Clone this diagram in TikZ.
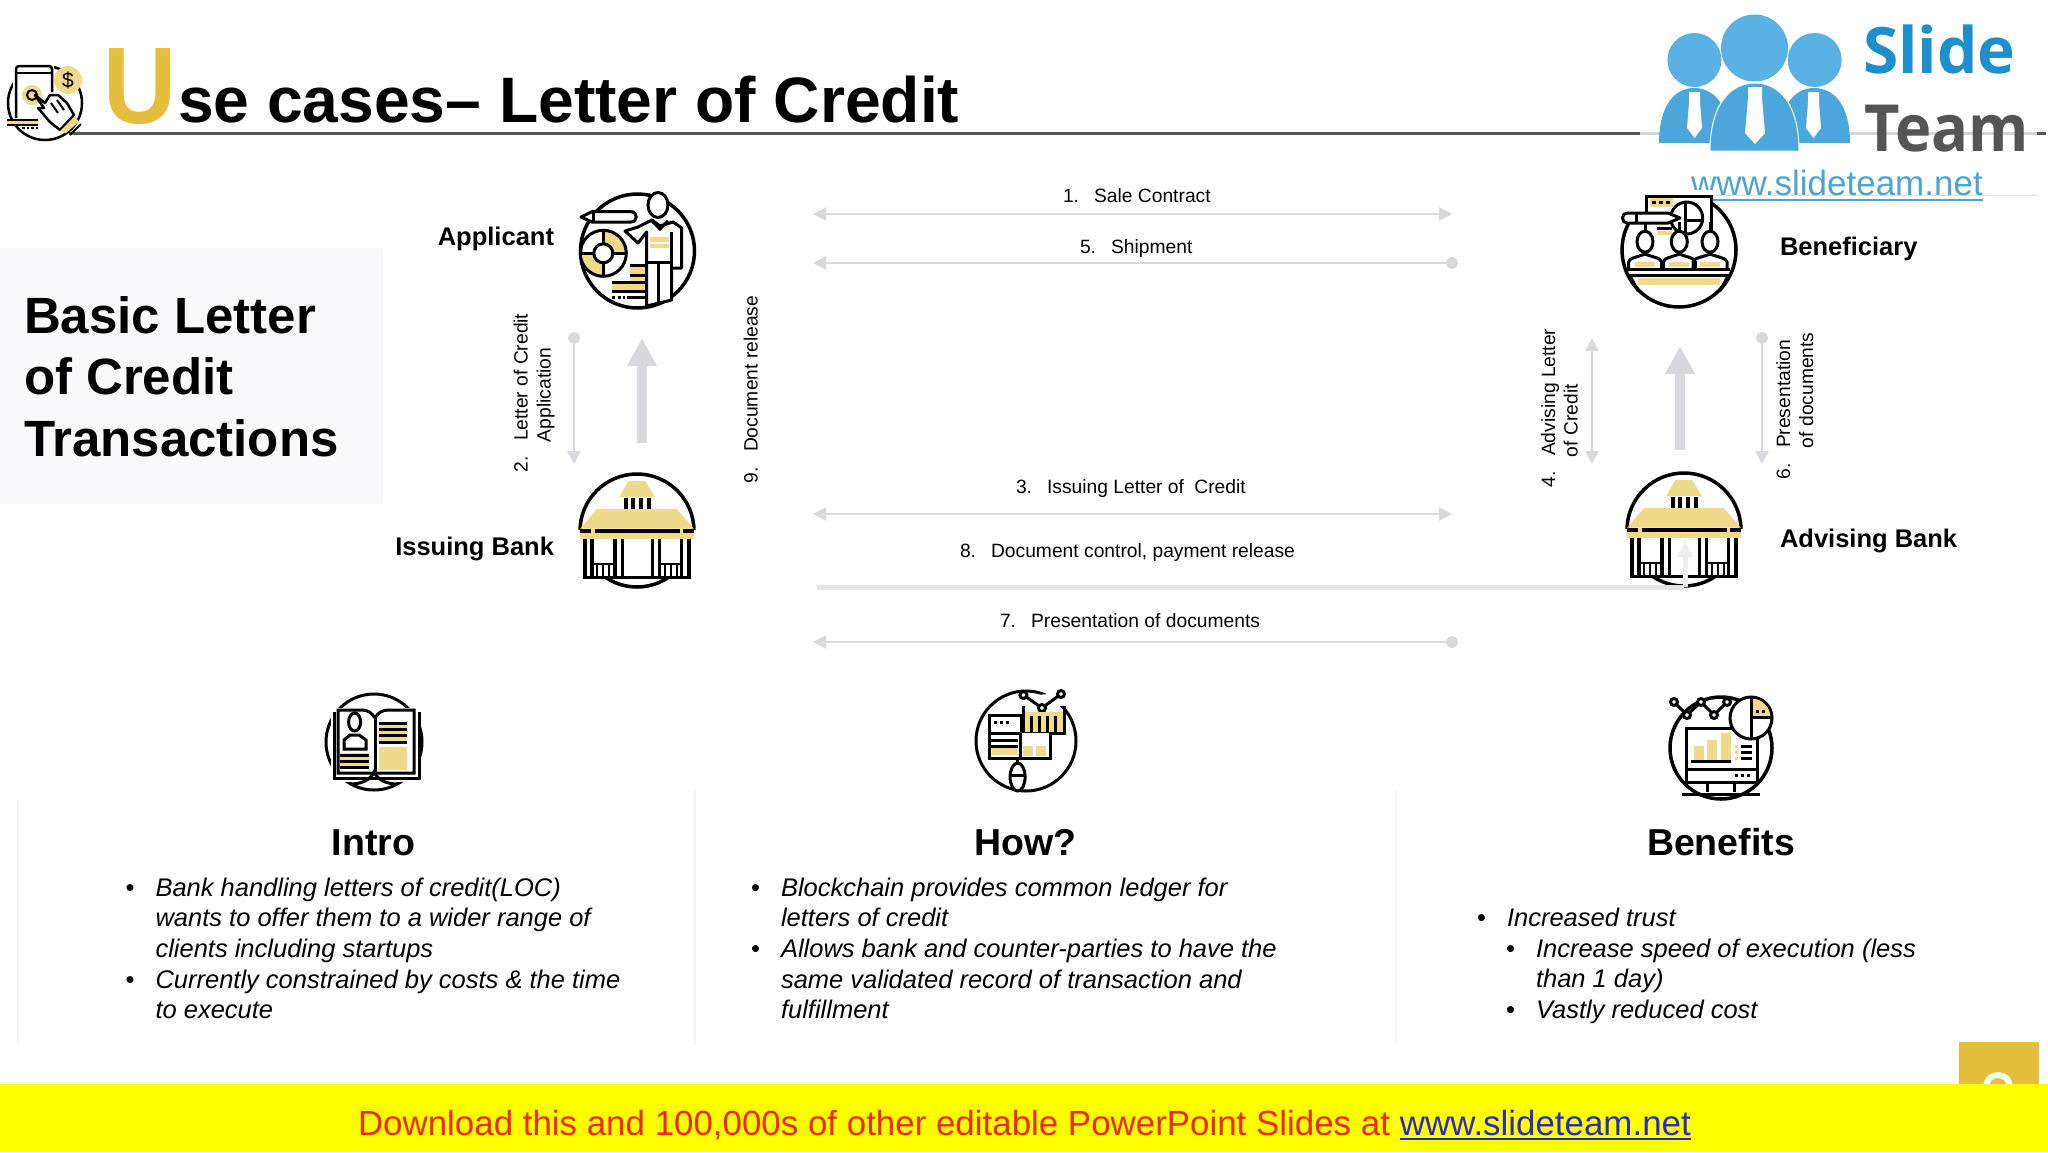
\documentclass[tikz,border=0pt]{standalone}
\usepackage{fontspec}
\setmainfont{Liberation Sans}
\newfontfamily\logofont{Open Sans}
\usepackage{tikz}
\usetikzlibrary{arrows.meta, positioning, calc}
\definecolor{icongold}{HTML}{EFDA8C}
\definecolor{titlegold}{HTML}{E5BF3C}
\definecolor{flowgrey}{HTML}{D9D9DD}
\definecolor{panelgrey}{HTML}{F9F8FB}
\definecolor{logoblue}{HTML}{4BA6DC}
\definecolor{logohead}{HTML}{5AB2E4}
\definecolor{logotext}{HTML}{1E8FCC}
\definecolor{logogrey}{HTML}{555555}
\definecolor{sitecolor}{HTML}{4FA3D1}
\definecolor{linkblue}{HTML}{2A2AC8}
\definecolor{bannerred}{HTML}{F02800}
\definecolor{banneryellow}{HTML}{FFFF00}
\newcommand{\Fs}[1]{\fontsize{#1}{#1}\selectfont}
\newcommand{\Bul}{\leavevmode\llap{\textup{•}\hspace{21pt}}}
\tikzset{
    hd/.tip={Triangle[width=13pt,length=13pt]},
    bl/.tip={Circle[length=12pt]},
    flow/.style={draw=flowgrey, line width=2.5pt},
    flowboth/.style={flow, hd-hd},
    flowdot/.style={flow, hd-bl},
    block/.style={draw=flowgrey, line width=10pt, -{Triangle[width=28pt,length=28pt]}},
    iconline/.style={draw=black, line width=3pt},
    txt/.style={inner sep=0pt, outer sep=0pt, anchor=base west},
    steplabel/.style={txt, font=\Fs{19.25}},
    uplabel/.style={steplabel, rotate=90},
    party/.style={inner sep=0pt, outer sep=0pt, font=\bfseries\Fs{25.5}},
    heading/.style={inner sep=0pt, outer sep=0pt, anchor=base, font=\bfseries\Fs{37.5}},
    bullets/.style={inner sep=0pt, outer sep=0pt, anchor=north west, align=left, font=\itshape\fontsize{25.5}{30.7}\selectfont},
    bankicon/.pic = {
      \begin{scope}
        \clip (-60,-60) rectangle (60,-2);
        \draw[iconline, line width=3.5pt] (0,0) circle[radius=57];
      \end{scope}
      \begin{scope}
        \clip (-60,47) rectangle (60,60);
        \draw[iconline, line width=3.5pt] (0,0) circle[radius=56];
      \end{scope}
      \fill[icongold] (-8.7,-50) -- (8,-50) -- (18,-34) -- (-17.7,-34) -- cycle;
      \foreach \xbar in {-11,-4,3.5,11.5}
        \fill (\xbar-2,-33) rectangle (\xbar+2,-22.3);
      \fill[icongold] (-40,-22) -- (39.7,-22) -- (57,-2.3) -- (-57,-2.3) -- cycle;
      \fill[icongold] (-57,-2.3) rectangle (57,7.7);
      \fill (-57,-2.3) rectangle (-45.7,2);
      \fill (-42.3,-2.3) rectangle (43,2);
      \fill (46.3,-2.3) rectangle (57,2);
      \foreach \xcol in {-52,-45,-22,-14.3,15.7,22.3,44.7,52}
        \draw[iconline, line width=3.3pt] (\xcol,7.7) -- (\xcol,47.5);
      \draw[iconline, line width=3.3pt] (-53.5,46.5) -- (53.5,46.5);
      \draw[iconline, line width=2.5pt] (-45,33) -- (-22,33);
      \draw[iconline, line width=2.5pt] (22,33) -- (45,33);
      \foreach \xbal in {-40,-34,-28,28,34,40}
        \draw[iconline, line width=2.5pt] (\xbal,33) -- (\xbal,46);
    },
}
\begin{document}
\begin{tikzpicture}[x=1pt, y=-1pt]
    \useasboundingbox (0,0) rectangle (2048,1152);
    \fill[white] (0,0) rectangle (2048,1152);

    \coordinate (rulew) at (69,133);
    \coordinate (rulee) at (2046,133);
    \draw[draw=logogrey, line width=3pt] (rulew) -- (rulee);

    \node[txt, text=titlegold, font=\bfseries\Fs{109}] (initial) at (103,123) {\scalebox{.93}[1]{U}};
    \node[txt, font=\bfseries\Fs{64.2}] (title) at (178,122) {se cases– Letter of Credit};

    \draw[iconline, line width=2.5pt] (45,103) circle[radius=37];
    \fill[white] (13,62) rectangle (54,112);
    \fill[icongold] (68,80) circle[radius=14];
    \node[inner sep=0pt, font=\Fs{21}] (dollar) at (68,80) {\$};
    \draw[iconline, line width=2.5pt, rounded corners=3pt] (16,118) -- (16,66) -- (52,66) -- (52,92);
    \draw[iconline, line width=2pt] (16,73) -- (52,73);
    \fill[icongold] (32,95) circle[radius=10];
    \draw[iconline, line width=2pt] (32,95) circle[radius=5];
    \draw[iconline, line width=2.5pt, fill=white, line join=round] (35,95) -- (45,103) -- (50,95) -- (58,95) -- (67,103) -- (74,115) -- (60,130) -- (50,122) -- (38,108) -- (44,108) -- cycle;
    \draw[iconline, line width=2pt] (51,103) -- (58,113);
    \draw[iconline, line width=2pt] (57,100) -- (64,110);
    \fill[icongold] (60,131) -- (75,116) -- (79,122) -- (66,133) -- cycle;
    \draw[iconline, line width=2pt] (70,135) -- (81,124);
    \fill[icongold] (7,120) rectangle (38,125);
    \foreach \ybar in {120,125}
      \draw[iconline, line width=2.5pt] (7,\ybar) -- (38,\ybar);
    \draw[iconline, line width=2pt, dash pattern=on 2.5pt off 2pt] (22,128) -- (38,128);

    \fill[white, opacity=.75] (1640,0) rectangle (2037,195);
    \draw[draw=black!12, line width=1pt] (1640,195) -- (2037,195);
    \fill[logohead] (1694.4,60) circle[radius=27];
    \fill[logohead] (1814.7,60) circle[radius=27];
    \fill[logohead] (1754.5,48) circle[radius=33.5];
    \fill[logoblue] (1659,143) .. controls (1659,105) and (1675,88) .. (1694,88) .. controls (1714,88) and (1730,105) .. (1730,143) -- cycle;
    \fill[logoblue] (1779,143) .. controls (1779,105) and (1795,88) .. (1814,88) .. controls (1834,88) and (1850,105) .. (1850,143) -- cycle;
    \draw[white, line width=1pt, fill=logoblue] (1710,151) .. controls (1710,105) and (1730,83) .. (1755,83) .. controls (1780,83) and (1799,105) .. (1799,151) -- cycle;
    \fill[white] (1748,87) -- (1762,87) -- (1762,98) -- (1765,133) -- (1755,144) -- (1745,133) -- (1748,98) -- cycle;
    \fill[white] (1689,92) -- (1700,92) -- (1700,102) -- (1702,128) -- (1694.5,138) -- (1687,128) -- (1689,102) -- cycle;
    \fill[white] (1808,92) -- (1819,92) -- (1819,102) -- (1821,128) -- (1813.5,138) -- (1806,128) -- (1808,102) -- cycle;
    \node[txt, text=logotext, font=\logofont\bfseries\Fs{64}] (slide) at (1863,73) {Slide};
    \node[txt, text=logogrey, font=\logofont\bfseries\Fs{65}] (team) at (1864,151) {\scalebox{.945}[1]{Team}};
    \node[txt, text=sitecolor, font=\Fs{35}] (site) at (1691,195) {www.slideteam.net};
    \coordinate (sitew) at (1691,200);
    \coordinate (sitee) at (1983,200);
    \draw[draw=sitecolor, line width=2pt] (sitew) -- (sitee);

    \fill[panelgrey] (0,248) rectangle (383,504);
    \node[txt, font=\bfseries\Fs{51}] (basic1) at (24,333) {Basic Letter};
    \node[txt, font=\bfseries\Fs{51}] (basic2) at (24,394) {of Credit};
    \node[txt, font=\bfseries\Fs{51}] (basic3) at (24,456) {Transactions};

    \draw[iconline, line width=3.5pt] (637.5,251) circle[radius=57];
    \begin{scope}
      \clip (603.3,230) rectangle (628,253.3);
      \fill[icongold] (603.3,253.3) circle[radius=23];
    \end{scope}
    \begin{scope}
      \clip (580,253.3) rectangle (603.3,278);
      \fill[icongold] (603.3,253.3) circle[radius=23];
    \end{scope}
    \draw[iconline] (603.3,253.3) circle[radius=23];
    \draw[iconline, fill=white] (603.3,253.3) circle[radius=9.5];
    \draw[iconline] (580,253.3) -- (594,253.3);
    \draw[iconline] (613,253.3) -- (627,253.3);
    \draw[iconline] (603.3,230) -- (603.3,244);
    \draw[iconline] (603.3,263) -- (603.3,277);
    \draw[iconline, fill=white, line join=round] (581,217) -- (592,211.7) -- (631,211.7) .. controls (638,211.7) and (638,222) .. (631,222) -- (592,222) -- cycle;
    \draw[iconline] (593,211.7) -- (593,222);
    \draw[iconline, fill=white, line join=round] (625,231) -- (638,227) -- (652,220) -- (660,226) -- (673,222) -- (681.7,228) -- (681.7,268) -- (671.7,268) -- (671.7,300) -- (646.7,306) -- (646.7,232) -- (638,243) -- cycle;
    \draw[iconline, fill=white] (658,205) ellipse[x radius=10, y radius=12.5];
    \draw[iconline] (652,221) -- (660,229) -- (668,221);
    \draw[iconline] (671.7,232) -- (671.7,268);
    \fill[icongold] (650,237) rectangle (669,248);
    \draw[white, line width=2pt] (650,242.5) -- (669,242.5);
    \draw[iconline] (646.7,262) -- (671.7,262);
    \draw[iconline] (658,262) -- (658,304);
    \fill[icongold] (630,265) rectangle (645,282);
    \fill[icongold] (612,282) rectangle (645,292);
    \foreach \ybar/\xbar in {265/630,275/630,282/612,291.7/612}
      \draw[iconline] (\xbar,\ybar) -- (645,\ybar);
    \draw[iconline, dash pattern=on 3pt off 2.5pt] (612,297) -- (625,297);
    \draw[iconline] (627,297) -- (645,297);

    \draw[iconline, line width=3.5pt] (1679,250) circle[radius=57];
    \fill[white] (1630,190) rectangle (1712,212);
    \fill[icongold] (1650,198) rectangle (1673,207);
    \draw[iconline, line width=3pt, dash pattern=on 3.5pt off 3.5pt] (1652,202.5) -- (1672,202.5);
    \draw[iconline] (1646.7,212) -- (1646.7,196.7) -- (1711.7,196.7) -- (1711.7,231);
    \draw[iconline, fill=white] (1686.7,218) circle[radius=16];
    \draw[iconline] (1685,202) -- (1685,234);
    \draw[iconline] (1685,220) -- (1702.5,220);
    \draw[iconline, fill=white, line join=round] (1627,213) -- (1668,213) -- (1680,218) -- (1668,223) -- (1627,223) .. controls (1621,223) and (1621,213) .. (1627,213);
    \draw[iconline] (1636,213) -- (1636,223);
    \draw[iconline] (1656.7,228) -- (1671.7,228);
    \fill[icongold] (1656.7,231) rectangle (1671.7,235);
    \foreach \xman/\wman in {1645/16.5,1679.3/16,1710/17} {
      \draw[iconline] (\xman,222) -- (\xman,231);
      \draw[iconline, fill=white] (\xman,241.7) ellipse[x radius=8, y radius=10.5];
      \fill[icongold] (\xman-10,262) rectangle (\xman+10,267);
      \draw[iconline] (\xman-\wman,268) -- (\xman-\wman,262) .. controls (\xman-\wman,258) and (\xman-7,257) .. (\xman,254) .. controls (\xman+7,257) and (\xman+\wman,258) .. (\xman+\wman,262) -- (\xman+\wman,268);
    }
    \draw[iconline] (1626.7,269.5) -- (1730,269.5);
    \draw[iconline] (1626.7,275.5) -- (1730,275.5);
    \fill[icongold] (1638,278) rectangle (1720,285);
    \draw[iconline] (1630,276) -- (1638,291);
    \draw[iconline] (1728,276) -- (1720,291);

    \path (637,531) pic (issuing) {bankicon};
    \path (1684,530) pic (advising) {bankicon};

    \node[party, anchor=base east] (applicant) at (554,245) {Applicant};
    \node[party, anchor=base east] (issuingbank) at (554,555) {Issuing Bank};
    \node[party, anchor=base west] (beneficiary) at (1780,255) {Beneficiary};
    \node[party, anchor=base west] (advisingbank) at (1780,547) {Advising Bank};

    \coordinate (salew) at (813,214);
    \coordinate (salee) at (1452,214);
    \coordinate (shipw) at (813,263);
    \coordinate (shipe) at (1458,263);
    \coordinate (issuew) at (813,514);
    \coordinate (issuee) at (1452,514);
    \coordinate (controlw) at (817,587);
    \coordinate (controle) at (1684,587);
    \coordinate (presentw) at (813,642);
    \coordinate (presente) at (1458,642);
    \coordinate (applyt) at (574,332);
    \coordinate (applyb) at (574,464);
    \coordinate (adviset) at (1592,338);
    \coordinate (adviseb) at (1592,464);
    \coordinate (docst) at (1762,332);
    \coordinate (docsb) at (1762,464);
    \coordinate (leftt) at (642,338);
    \coordinate (leftb) at (642,443);
    \coordinate (rightt) at (1680,346);
    \coordinate (rightb) at (1680,450);
    \coordinate (releaset) at (1685,541);
    \coordinate (releaseb) at (1685,587);

    \draw[flowboth] (salew) -- (salee);
    \draw[flowdot] (shipw) -- (shipe);
    \draw[flowboth] (issuew) -- (issuee);
    \draw[draw=flowgrey!70, line width=5pt] (controlw) -- (controle);
    \draw[flowdot] (presentw) -- (presente);
    \draw[flow, bl-hd] (applyt) -- (applyb);
    \draw[flowboth] (adviset) -- (adviseb);
    \draw[flow, bl-hd] (docst) -- (docsb);
    \draw[block] (leftb) -- (leftt);
    \draw[block] (rightb) -- (rightt);
    \draw[draw=flowgrey!45, line width=5pt, -{Triangle[width=15pt,length=16pt]}] (releaseb) -- (releaset);

    \node[steplabel] (step1) at (1063,202) {1.\hspace{15pt}Sale Contract};
    \node[steplabel] (step5) at (1080,253) {5.\hspace{15pt}Shipment};
    \node[steplabel] (step3) at (1016,493) {3.\hspace{15pt}Issuing Letter of\hspace{5pt} Credit};
    \node[steplabel] (step8) at (960,557) {8.\hspace{15pt}Document control, payment release};
    \node[steplabel] (step7) at (1000,627) {7.\hspace{15pt}Presentation of documents};
    \node[uplabel] (step2) at (527.7,472) {2.\hspace{15pt}Letter of Credit};
    \node[uplabel] (step2b) at (550.7,442) {Application};
    \node[uplabel] (step9) at (757.7,483) {9.\hspace{15pt}Document release};
    \node[uplabel] (step4) at (1555,487) {4.\hspace{15pt}Advising Letter};
    \node[uplabel] (step4b) at (1577.7,457) {of Credit};
    \node[uplabel] (step6) at (1790,479) {6.\hspace{15pt}Presentation};
    \node[uplabel] (step6b) at (1813,448) {of documents};

    \draw[draw=black!4, line width=1.5pt] (18,800) -- (18,1045);
    \draw[draw=black!4, line width=1.5pt] (695,790) -- (695,1045);
    \draw[draw=black!4, line width=1.5pt] (1396,790) -- (1396,1045);

    \draw[iconline] (374,742) circle[radius=48];
    \fill[white] (331,708) rectangle (420,782);
    \draw[iconline] (350,784) .. controls (362,784) and (370,780) .. (374,772) .. controls (378,780) and (386,784) .. (398,784);
    \draw[iconline] (334,712) -- (334,778) -- (419,778) -- (419,712);
    \draw[iconline] (338,710) -- (362,710) .. controls (368,710) and (372,713) .. (375,718) .. controls (378,713) and (382,710) .. (388,710) -- (414,710) -- (414,773) -- (338,773) -- cycle;
    \draw[iconline] (375,718) -- (375,773);
    \draw[iconline] (354.6,722) ellipse[x radius=6, y radius=9];
    \draw[iconline] (344,749) -- (344,740) -- (350,735) -- (359,735) -- (366,740) -- (366,749) -- cycle;
    \fill[icongold] (340,753) rectangle (369,768);
    \foreach \ybar in {755,761,767}
      \draw[iconline] (340,\ybar) -- (369,\ybar);
    \fill[icongold] (379,722) rectangle (407,744);
    \foreach \ybar in {723,729,735,742}
      \draw[iconline] (379,\ybar) -- (407,\ybar);
    \fill[icongold] (379,747) rectangle (407,770);

    \draw[iconline] (1026,741) circle[radius=50];
    \fill[white] (1046,685) rectangle (1070,706);
    \draw[iconline, fill=white] (1023.4,695) -- (1042,708) -- (1061,694);
    \foreach \xpt/\ypt in {1023.4/695,1042/708,1061/694}
      \draw[iconline, fill=white] (\xpt,\ypt) circle[radius=3.5];
    \fill[icongold] (1022,712) rectangle (1064,733);
    \draw[iconline] (1023,706) -- (1023,733) -- (1064,733) -- (1064,706);
    \foreach \xbar in {1031,1039,1047,1055}
      \draw[iconline] (\xbar,716) -- (\xbar,733);
    \draw[iconline, fill=white] (1050,733) -- (1050,758) -- (989,758) -- (989,715) -- (1021,715) -- (1021,733);
    \draw[iconline, dash pattern=on 3pt off 3pt] (994,722) -- (1012,722);
    \draw[iconline] (990,733) -- (1020,733);
    \fill[icongold] (992,748) rectangle (1018,755);
    \draw[iconline] (991,746) -- (1018,746);
    \draw[iconline] (991,740) -- (1018,740);
    \draw[iconline] (1020,733) -- (1020,758);
    \fill[icongold] (1023,746) rectangle (1033,756);
    \fill[icongold] (1036,746) rectangle (1046,756);
    \draw[iconline] (1017.6,758) -- (1017.6,764);
    \draw[iconline, fill=white] (1017.6,777) ellipse[x radius=7.5, y radius=14];
    \draw[iconline] (1010,775) -- (1025,775);

    \draw[iconline, line width=3.5pt] (1721,748) circle[radius=51];
    \foreach \xa/\ya/\xb/\yb in {1674/702/1687/715,1687/715/1701/702,1701/702/1714/715,1714/715/1727/702}
      \draw[iconline] (\xa,\ya) -- (\xb,\yb);
    \foreach \xpt/\ypt in {1674/702,1687/715,1701/702,1714/715,1727/702}
      \draw[iconline, fill=white] (\xpt,\ypt) circle[radius=3.5];
    \draw[iconline, fill=white] (1686,728) rectangle (1757,782);
    \draw[iconline] (1686,769) -- (1757,769);
    \fill[icongold] (1694,746) rectangle (1704,760);
    \fill[icongold] (1707,740) rectangle (1717,760);
    \fill[icongold] (1721,733) rectangle (1731,760);
    \draw[iconline] (1691,761.5) -- (1731,761.5);
    \foreach \ybar in {746,752,758} {
      \draw[iconline] (1741,\ybar) -- (1752,\ybar);
      \fill[icongold] (1735,\ybar-1.5) rectangle (1738,\ybar+1.5);
    }
    \draw[iconline, dash pattern=on 3pt off 3pt] (1735,775) -- (1751,775);
    \draw[iconline] (1707,782) -- (1707,792);
    \draw[iconline] (1734,782) -- (1734,792);
    \draw[iconline] (1682,794) -- (1760,794);
    \draw[iconline, fill=white] (1751,718) circle[radius=21];
    \fill[icongold] (1753,699) -- (1753,716) -- (1770,716) .. controls (1770,707) and (1762,699) .. (1753,699);
    \draw[iconline] (1751,697) -- (1751,739);
    \draw[iconline] (1751,717) -- (1772,717);
    \fill (1756,710) rectangle (1759,713);
    \fill (1762,710) rectangle (1765,713);

    \node[heading] (intro) at (373.5,855) {Intro};
    \node[heading] (how) at (1025.5,855) {How?};
    \node[heading] (benefits) at (1721,855) {Benefits};

    \node[bullets] (introtext) at (155.5,874.5) {\strut\Bul Bank handling letters of credit(LOC)\\
      wants to offer them to a wider range of\\
      clients including startups\\
      \Bul Currently constrained by costs \& the time\\
      to execute};
    \node[bullets] (howtext) at (781,874.5) {\strut\Bul Blockchain provides common ledger for\\
      letters of credit\\
      \Bul Allows bank and counter-parties to have the\\
      same validated record of transaction and\\
      fulfillment};
    \node[bullets] (benefitstext) at (1507,905) {\strut\Bul Increased trust\\
      \hspace*{29pt}\Bul Increase speed of execution (less\\
      \hspace*{29pt}than 1 day)\\
      \hspace*{29pt}\Bul Vastly reduced cost};

    \fill[titlegold] (1959,1042) rectangle (2039,1090);
    \draw[white, line width=6pt] (1998,1087) circle[radius=12];
    \fill[banneryellow] (0,1084) rectangle (2048,1152);
    \node[txt, text=bannerred, font=\Fs{34.9}] (download) at (358,1135) {Download this and 100,000s of other editable PowerPoint Slides at \textcolor{linkblue}{www.slideteam.net}};
    \coordinate (linkw) at (1400,1138.5);
    \coordinate (linke) at (1691,1138.5);
    \draw[draw=linkblue, line width=2pt] (linkw) -- (linke);
\end{tikzpicture}
\end{document}
